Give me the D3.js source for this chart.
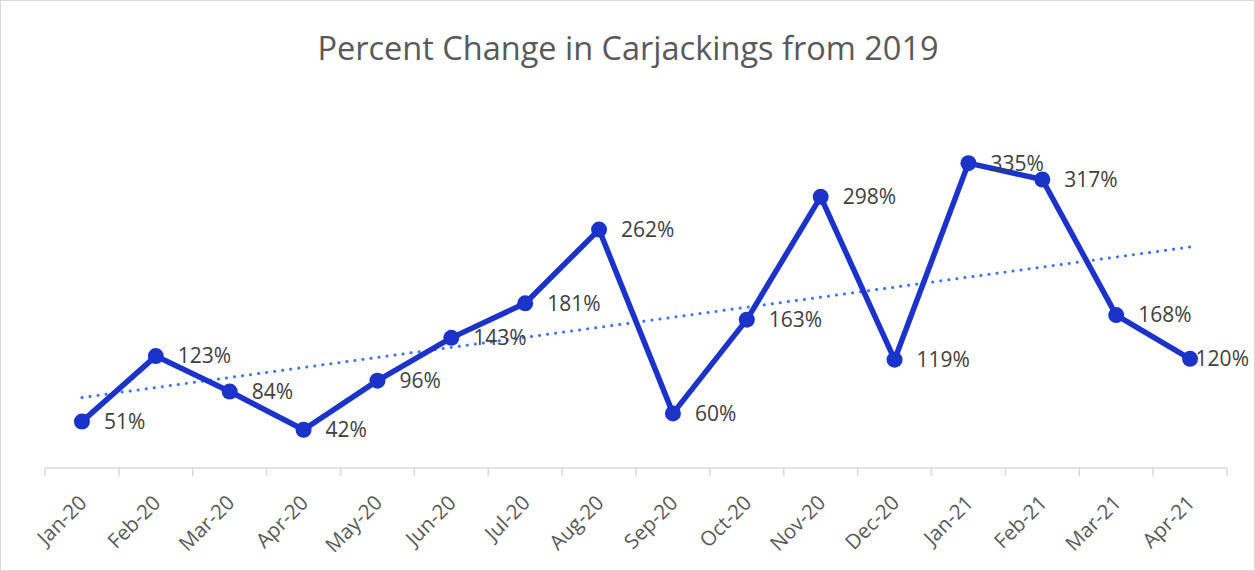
<!DOCTYPE html>
<html>
<head>
<meta charset="utf-8">
<script src="https://cdn.jsdelivr.net/npm/d3@7"></script>
<style>
  body { margin: 0; background: #fff; }
  text { font-family: "Open Sans", Lato, sans-serif; }
</style>
</head>
<body>
<div id="chart"></div>
<script>
const months = ["Jan-20", "Feb-20", "Mar-20", "Apr-20", "May-20", "Jun-20", "Jul-20", "Aug-20",
  "Sep-20", "Oct-20", "Nov-20", "Dec-20", "Jan-21", "Feb-21", "Mar-21", "Apr-21"];
const pctChange = [51, 123, 84, 42, 96, 143, 181, 262, 60, 163, 298, 119, 335, 317, 168, 120];

const WIDTH = 1255;
const HEIGHT = 571;
const margin = { top: 104, right: 28, bottom: 103, left: 45 };

const svg = d3.select("#chart").append("svg")
  .attr("width", WIDTH)
  .attr("height", HEIGHT);

// chart frame
svg.append("rect")
  .attr("x", 0.5).attr("y", 0.5)
  .attr("width", WIDTH - 1).attr("height", HEIGHT - 1)
  .attr("fill", "#fff")
  .attr("stroke", "#d9d9d9");

svg.append("text")
  .attr("x", 628)
  .attr("y", 60)
  .attr("text-anchor", "middle")
  .attr("fill", "#595959")
  .style("font-size", "32.5px")
  .text("Percent Change in Carjackings from 2019");

const x = d3.scaleBand()
  .domain(months)
  .range([margin.left, WIDTH - margin.right]);

const y = d3.scaleLinear()
  .domain([0, 400])
  .range([HEIGHT - margin.bottom, margin.top]);

const cx = d => x(d) + x.bandwidth() / 2;

// axis line + ticks at band edges
const g = svg.append("g");
const y0 = y(0);
g.append("line")
  .attr("x1", margin.left).attr("x2", WIDTH - margin.right)
  .attr("y1", y0).attr("y2", y0)
  .attr("stroke", "#d9d9d9").attr("stroke-width", 1.5);

const edges = months.map(m => x(m)).concat([WIDTH - margin.right]);
g.selectAll(".tick")
  .data(edges)
  .enter().append("line")
  .attr("x1", d => d).attr("x2", d => d)
  .attr("y1", y0).attr("y2", y0 + 8)
  .attr("stroke", "#d9d9d9").attr("stroke-width", 1.5);

g.selectAll(".xlabel")
  .data(months)
  .enter().append("text")
  .attr("transform", d => "translate(" + (cx(d) + 1) + "," + (y0 + 31) + ") rotate(-45)")
  .attr("text-anchor", "end")
  .attr("dy", "0.35em")
  .attr("fill", "#595959")
  .style("font-size", "20.5px")
  .text(d => d);

// linear trendline
const n = pctChange.length;
const xs = d3.range(1, n + 1);
const mx = d3.mean(xs), my = d3.mean(pctChange);
const slope = d3.sum(xs, (v, i) => (v - mx) * (pctChange[i] - my)) / d3.sum(xs, v => (v - mx) * (v - mx));
const icpt = my - slope * mx;

svg.append("line")
  .attr("x1", cx(months[0])).attr("y1", y(icpt + slope * 1))
  .attr("x2", cx(months[n - 1])).attr("y2", y(icpt + slope * n))
  .attr("stroke", "#3d72f5")
  .attr("stroke-width", 3)
  .attr("stroke-linecap", "round")
  .attr("stroke-dasharray", "0.1 8");

// main line
const line = d3.line()
  .x((d, i) => cx(months[i]))
  .y(d => y(d));

svg.append("path")
  .datum(pctChange)
  .attr("fill", "none")
  .attr("stroke", "#1b33c9")
  .attr("stroke-width", 5.5)
  .attr("stroke-linejoin", "round")
  .attr("d", line);

svg.selectAll(".dot")
  .data(pctChange)
  .enter().append("circle")
  .attr("cx", (d, i) => cx(months[i]))
  .attr("cy", d => y(d))
  .attr("r", 8)
  .attr("fill", "#1b33c9");

svg.selectAll(".label")
  .data(pctChange)
  .enter().append("text")
  .attr("x", (d, i) => cx(months[i]) + 22)
  .attr("y", d => y(d))
  .attr("dy", "0.35em")
  .attr("fill", "#404040")
  .style("font-size", "21px")
  .text(d => d + "%")
  .each(function() {
    // keep labels inside the chart frame, like Excel nudges them
    const w = this.getComputedTextLength();
    const xPos = +this.getAttribute("x");
    if (xPos + w > WIDTH - 6) this.setAttribute("x", WIDTH - 6 - w);
  });
</script>
</body>
</html>
